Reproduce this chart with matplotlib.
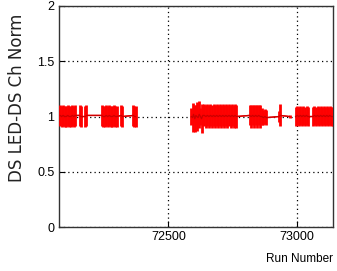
import matplotlib
matplotlib.use('Agg')
import matplotlib.pyplot as plt

# ........................................................ data
runs_a = [72078, 72084, 72090, 72096, 72102, 72108, 72114, 72120, 72126, 72132, 72136,
          72154, 72158, 72177, 72181,
          72240, 72246, 72252, 72258, 72264, 72270, 72276, 72282, 72288, 72294, 72298,
          72317, 72321, 72364, 72368, 72372]
vals_a = [1.01, 1.0, 1.01, 1.0, 1.0, 1.01, 1.0, 1.0, 1.01, 1.0, 1.01,
          1.01, 1.0, 1.0, 1.01,
          1.01, 1.0, 1.0, 1.01, 1.0, 1.01, 1.0, 1.0, 1.01, 1.0, 1.0,
          1.01, 1.0, 1.01, 1.0, 1.0]
errs_a = [0.095, 0.095, 0.095, 0.095, 0.095, 0.095, 0.095, 0.095, 0.095, 0.095, 0.095,
          0.095, 0.095, 0.095, 0.095,
          0.095, 0.095, 0.095, 0.095, 0.095, 0.095, 0.095, 0.095, 0.095, 0.095, 0.095,
          0.095, 0.095, 0.095, 0.095, 0.095]

runs_b = [72590, 72594, 72598, 72603, 72607, 72611, 72616, 72620, 72625, 72629, 72634,
          72640, 72646, 72652, 72658, 72664, 72670, 72676, 72682, 72688, 72694, 72700, 72706,
          72712, 72718, 72724, 72730, 72736, 72742, 72748, 72754, 72760, 72765,
          72816, 72822, 72828, 72834, 72840, 72846, 72852, 72858, 72864, 72870, 72876, 72882,
          72931, 72935, 72972]
vals_b = [1.0, 0.99, 1.02, 0.98, 1.01, 1.0, 0.99, 1.02, 1.0, 0.98, 1.01,
          1.01, 1.0, 1.01, 1.0, 1.01, 1.0, 1.01, 1.0, 1.01, 1.0, 1.01, 1.0,
          1.01, 1.0, 1.01, 1.0, 1.01, 1.0, 1.01, 1.0, 1.01, 1.0,
          1.01, 1.0, 1.01, 1.0, 1.01, 1.0, 1.01, 1.0, 1.0, 0.99, 1.0, 0.99,
          1.0, 1.01, 1.0]
errs_b = [0.08, 0.13, 0.07, 0.12, 0.09, 0.13, 0.07, 0.12, 0.08, 0.13, 0.09,
          0.1, 0.1, 0.1, 0.1, 0.1, 0.1, 0.1, 0.1, 0.1, 0.1, 0.1, 0.1,
          0.1, 0.1, 0.1, 0.1, 0.1, 0.1, 0.1, 0.1, 0.1, 0.1,
          0.09, 0.1, 0.09, 0.1, 0.09, 0.1, 0.09, 0.1, 0.08, 0.07, 0.07, 0.07,
          0.05, 0.1, 0.01]

runs_c = [72996, 73002, 73008, 73014, 73020, 73026, 73032, 73038, 73043,
          73063, 73069, 73075, 73081, 73087, 73093, 73099, 73105, 73111, 73117, 73123,
          73129, 73135, 73140]
vals_c = [1.0, 1.01, 1.0, 1.01, 1.0, 1.01, 1.0, 1.01, 1.0,
          1.0, 1.01, 1.0, 1.01, 1.0, 1.01, 1.0, 1.01, 1.0, 1.01, 1.0,
          1.01, 1.0, 1.0]
errs_c = [0.085, 0.085, 0.085, 0.085, 0.085, 0.085, 0.085, 0.085, 0.085,
          0.085, 0.085, 0.085, 0.085, 0.085, 0.085, 0.085, 0.085, 0.085, 0.085, 0.085,
          0.085, 0.085, 0.085]

xticks = [72500, 73000]
yticks = [0, 0.5, 1, 1.5, 2]
ylabels = ['0', '0.5', '1', '1.5', '2']

# ........................................................ figure
plt.rcParams['font.family'] = ['Liberation Sans Narrow', 'Liberation Sans', 'DejaVu Sans']
fig = plt.figure(figsize=(3.37, 2.71), dpi=100)
ax = fig.add_axes([0.1736, 0.162, 0.8144, 0.816])

for r, v, e in [(runs_a, vals_a, errs_a), (runs_b, vals_b, errs_b), (runs_c, vals_c, errs_c)]:
  ax.errorbar(r, v, yerr=e, fmt='-', color='#ff0000', lw=1.0, elinewidth=2.0, capsize=0, zorder=3)
  ax.plot(r, v, '-', color='#cc0000', lw=0.9, zorder=4)

ax.set_xlim(72072, 73141)
ax.set_ylim(0, 2)
ax.set_xticks(xticks)
ax.set_xticklabels([str(t) for t in xticks])
ax.set_yticks(yticks)
ax.set_yticklabels(ylabels)
ax.grid(True, color='black', linestyle=(0, (1, 2.5)), linewidth=0.9)
ax.tick_params(direction='in', length=4, labelsize=9, width=0.8, pad=3)
for s in ax.spines.values():
  s.set_linewidth(1.0)
  s.set_color('#333333')

fig.text(0.05, 0.64, 'DS LED-DS Ch Norm', rotation=90, ha='center', va='center',
         fontsize=12, color='#222222', family=['DejaVu Sans'])
fig.text(0.988, 0.045, 'Run Number', ha='right', va='center', fontsize=8.5)

fig.savefig('out.png', dpi=100)
